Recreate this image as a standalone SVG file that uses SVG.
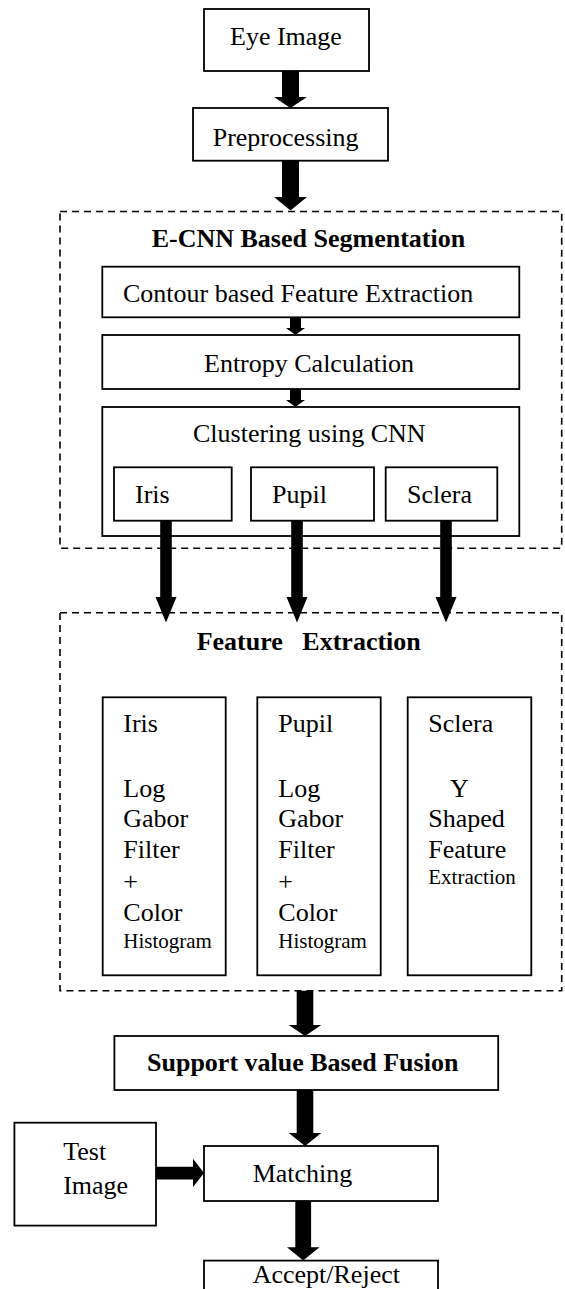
<svg xmlns="http://www.w3.org/2000/svg" width="565" height="1289" viewBox="0 0 565 1289">
<style>
text{font-family:"Liberation Serif","Times New Roman",serif;font-size:26px;fill:#000}
.b{font-weight:bold}
.s{font-size:21px}
.box{fill:#fff;stroke:#000;stroke-width:1.8}
.dash{fill:none;stroke:#000;stroke-width:1.6;stroke-dasharray:7 5}
.arr{fill:#000;stroke:none}
</style>
<rect width="565" height="1289" fill="#fff"/>
<g id="eye-image"><rect class="box" x="204" y="9" width="165" height="62"/><text x="230" y="45">Eye Image</text></g>
<g id="preprocessing"><rect class="box" x="193" y="108" width="195" height="52.7"/><text x="212.7" y="145.5">Preprocessing</text></g>
<g id="ecnn-segmentation"><rect class="dash" x="60" y="211.5" width="501.7" height="336.8"/><text class="b" x="151.7" y="246.7">E-CNN Based Segmentation</text></g>
<g id="contour"><rect class="box" x="102.3" y="266.7" width="417" height="50.6"/><text x="123" y="301.7">Contour based Feature Extraction</text></g>
<g id="entropy"><rect class="box" x="102.3" y="335" width="417" height="54"/><text x="204" y="371.7">Entropy Calculation</text></g>
<g id="clustering"><rect class="box" x="102.3" y="407" width="417" height="129"/><text x="193" y="442">Clustering using CNN</text></g>
<g id="seg-iris"><rect class="box" x="114" y="467.3" width="117.7" height="53.4"/><text x="135" y="502.7">Iris</text></g>
<g id="seg-pupil"><rect class="box" x="251" y="467.3" width="123" height="53.4"/><text x="272" y="502.7">Pupil</text></g>
<g id="seg-sclera"><rect class="box" x="385.7" y="467.3" width="111.6" height="53.4"/><text x="407" y="502.7">Sclera</text></g>
<g id="feature-extraction"><rect class="dash" x="60" y="612.7" width="501.7" height="378"/><text class="b" x="196.7" y="650" xml:space="preserve" style="white-space:pre">Feature   Extraction</text></g>
<g id="fe-iris"><rect class="box" x="102.7" y="697.3" width="123" height="278"/>
<text x="123.3" y="731.7">Iris</text><text x="123.3" y="796.7">Log</text><text x="123.3" y="826.7">Gabor</text><text x="123.3" y="858">Filter</text><text x="123.3" y="890">+</text><text x="123.3" y="921">Color</text><text class="s" x="123.3" y="948">Histogram</text></g>
<g id="fe-pupil"><rect class="box" x="257.3" y="697.3" width="123.4" height="278"/>
<text x="278.3" y="731.7">Pupil</text><text x="278.3" y="796.7">Log</text><text x="278.3" y="826.7">Gabor</text><text x="278.3" y="858">Filter</text><text x="278.3" y="890">+</text><text x="278.3" y="921">Color</text><text class="s" x="278.3" y="948">Histogram</text></g>
<g id="fe-sclera"><rect class="box" x="407.7" y="697.3" width="123.6" height="278"/>
<text x="428.3" y="731.7">Sclera</text><text x="450" y="796.7">Y</text><text x="428.3" y="826.7">Shaped</text><text x="428.3" y="858">Feature</text><text class="s" x="428.3" y="884">Extraction</text></g>
<g id="fusion"><rect class="box" x="114.4" y="1036" width="383.8" height="54"/><text class="b" x="147" y="1071">Support value Based Fusion</text></g>
<g id="test-image"><rect class="box" x="14.4" y="1122.7" width="141.6" height="102.9"/><text x="63.2" y="1160">Test</text><text x="63.2" y="1194">Image</text></g>
<g id="matching"><rect class="box" x="204" y="1146" width="234" height="55"/><text x="252.7" y="1182">Matching</text></g>
<g id="accept-reject"><rect class="box" x="204" y="1260.6" width="234" height="50"/><text x="252.7" y="1283">Accept/Reject</text></g>
<g id="connectors">
<polygon class="arr" points="282,71 299,71 299,97 307,97 290.5,108 274,97 282,97"/>
<polygon class="arr" points="282,160.7 299,160.7 299,197 307,197 290.5,210.5 274,197 282,197"/>
<polygon class="arr" points="290,317.3 301,317.3 301,328 305,328 295.5,335 286,328 290,328"/>
<polygon class="arr" points="290,389 301,389 301,400 305,400 295.5,407 286,400 290,400"/>
<polygon class="arr" points="160.2,520.7 171.8,520.7 171.8,597 176.5,597 166,622.5 155.5,597 160.2,597"/>
<polygon class="arr" points="291.2,520.7 302.8,520.7 302.8,597 307.5,597 297,622.5 286.5,597 291.2,597"/>
<polygon class="arr" points="440.2,520.7 451.8,520.7 451.8,597 456.5,597 446,622.5 435.5,597 440.2,597"/>
<polygon class="arr" points="296.7,990.7 313.3,990.7 313.3,1025 321.3,1025 305,1036 288.8,1025 296.7,1025"/>
<polygon class="arr" points="296.7,1090 313.3,1090 313.3,1133 321.3,1133 305,1146 288.8,1133 296.7,1133"/>
<polygon class="arr" points="156,1166.8 193,1166.8 193,1158.8 204,1173 193,1187 193,1179.4 156,1179.4"/>
<polygon class="arr" points="295.3,1201 311.1,1201 311.1,1247.3 319.5,1247.3 303.2,1260.6 287,1247.3 295.3,1247.3"/>
</g>
</svg>
